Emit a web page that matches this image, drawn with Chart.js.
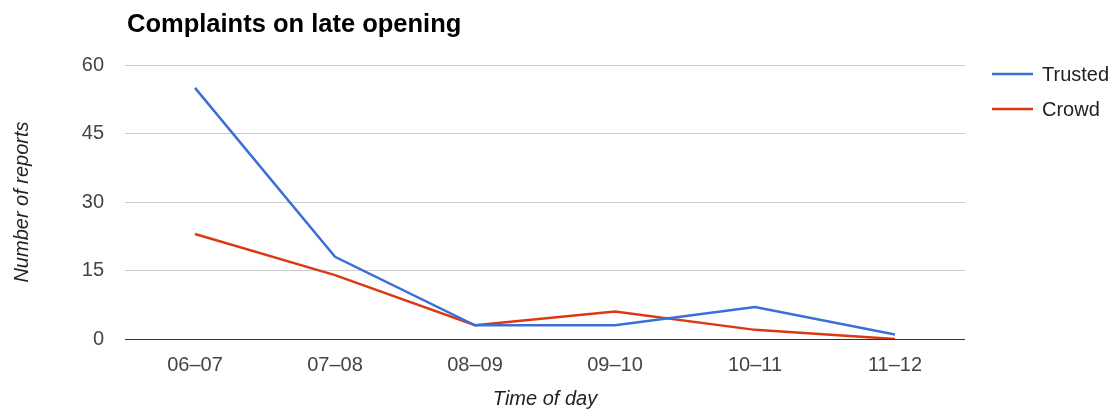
<!DOCTYPE html>
<html>
<head>
<meta charset="utf-8">
<title>Complaints on late opening</title>
<script src="https://cdn.jsdelivr.net/npm/chart.js@4.4.1/dist/chart.umd.min.js"></script>
<style>
  html, body { margin: 0; padding: 0; background: #ffffff; }
  #wrap { width: 1116px; height: 414px; position: relative; }
</style>
</head>
<body>
<div id="wrap"><canvas id="chart" width="1116" height="414"></canvas></div>
<script>
// Reports per hour slot
const categories = ['06–07', '07–08', '08–09', '09–10', '10–11', '11–12'];
const trusted = [55, 18, 3, 3, 7, 1];
const crowd = [23, 14, 3, 6, 2, 0];
const yTicks = [0, 15, 30, 45, 60];

const FONT = "'Liberation Sans', Arial, sans-serif";

// Title and right-hand legend, drawn on top of the chart
const decorations = {
  id: 'decorations',
  afterDraw(chart) {
    const ctx = chart.ctx;
    ctx.save();
    ctx.fillStyle = '#000000';
    ctx.font = 'bold 25.5px ' + FONT;
    ctx.textAlign = 'left';
    ctx.textBaseline = 'alphabetic';
    ctx.fillText('Complaints on late opening', 127, 32);

    const rows = [74, 109];
    chart.data.datasets.forEach((ds, i) => {
      const y = rows[i];
      ctx.strokeStyle = ds.borderColor;
      ctx.lineWidth = 2.5;
      ctx.beginPath();
      ctx.moveTo(992, y);
      ctx.lineTo(1033, y);
      ctx.stroke();
      ctx.fillStyle = '#222222';
      ctx.font = '20px ' + FONT;
      ctx.textBaseline = 'middle';
      ctx.fillText(ds.label, 1042, y + 1);
    });
    ctx.restore();
  }
};

new Chart(document.getElementById('chart'), {
  type: 'line',
  data: {
    labels: categories,
    datasets: [
      { label: 'Trusted', data: trusted, borderColor: '#3a6fd8', backgroundColor: '#3a6fd8',
        borderWidth: 2.5, pointRadius: 0, tension: 0 },
      { label: 'Crowd', data: crowd, borderColor: '#dc3912', backgroundColor: '#dc3912',
        borderWidth: 2.5, pointRadius: 0, tension: 0 }
    ]
  },
  options: {
    responsive: false,
    animation: false,
    layout: { padding: { top: 65, right: 151, left: 0, bottom: 0 } },
    plugins: {
      legend: { display: false },
      title: { display: false },
      tooltip: { enabled: false }
    },
    scales: {
      x: {
        type: 'category',
        offset: true,
        grid: { display: false, drawTicks: false },
        border: { display: false },
        ticks: { color: '#444444', font: { family: FONT, size: 20 }, padding: 14, maxRotation: 0 },
        title: { display: true, text: 'Time of day', color: '#222222',
                 font: { family: FONT, size: 20, style: 'italic' }, padding: { top: 0, bottom: 3 } },
        afterFit(scale) { scale.height = 75; }
      },
      y: {
        min: 0,
        max: 60,
        afterBuildTicks(scale) { scale.ticks = yTicks.map(v => ({ value: v })); },
        grid: {
          drawTicks: false,
          lineWidth: 1,
          color: ctx => (ctx.tick && ctx.tick.value === 0) ? '#333333' : '#cccccc'
        },
        border: { display: false },
        ticks: { color: '#444444', font: { family: FONT, size: 20 }, padding: 21 },
        title: { display: true, text: 'Number of reports', color: '#222222',
                 font: { family: FONT, size: 20, style: 'italic' }, padding: { top: 10, bottom: 0 } },
        afterFit(scale) { scale.width = 125; }
      }
    }
  },
  plugins: [decorations]
});
</script>
</body>
</html>
